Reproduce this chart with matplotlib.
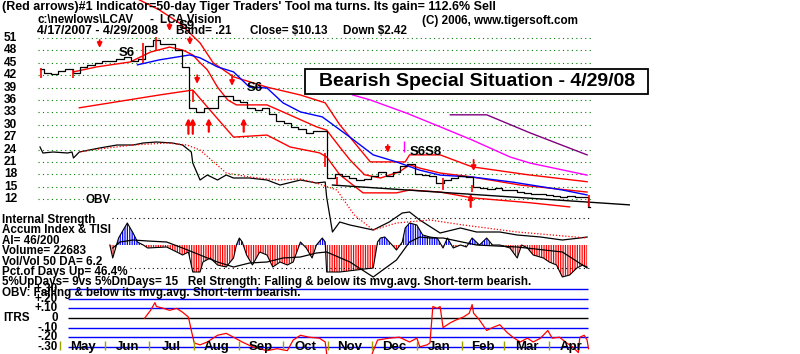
import numpy as np
import matplotlib
matplotlib.use("Agg")
import matplotlib.pyplot as plt
from matplotlib.patches import Rectangle

plt.rcParams['font.family'] = ['Liberation Sans', 'DejaVu Sans']
plt.rcParams['font.weight'] = 'bold'

W, H = 800, 354
X0, DPX = 40, 1.455          # pixel of day 0 (4/17/2007), pixels per calendar day

# ---------------- data (x = calendar days since 4/17/2007) ----------------
price_days = np.r_[np.arange(0, 376, 5), 378]
price_close = [43.5, 42.5, 42.3, 43.0, 43.5, 42.5, 44.0, 44.5, 45.0, 45.5,
               45.5, 46.0, 46.5, 45.5, 46.0, 49.0, 50.5, 49.5, 49.5, 48.0,
               44.0, 34.0, 33.0, 34.0, 34.0, 37.0, 37.0, 36.0, 35.5, 34.0,
               33.5, 34.0, 32.5, 31.0, 30.5, 29.5, 29.0, 28.0, 28.5, 28.5,
               17.0, 18.0, 17.5, 17.0, 16.5, 16.8, 17.5, 18.5, 17.5, 18.5,
               20.0, 20.5, 18.0, 17.8, 17.5, 16.0, 16.5, 17.0, 17.5, 17.3,
               15.0, 14.8, 14.5, 14.8, 14.3, 14.2, 13.8, 13.5, 13.2, 13.3,
               13.0, 12.8, 12.6, 12.7, 12.6, 12.55, 10.13]

ma_days = [23, 39, 62, 76, 89, 98, 105, 110, 115, 122, 129, 135, 156, 167, 190,
           197, 206, 213, 223, 234, 247, 254, 261, 275, 296, 330, 376]
ma_vals = [42.8, 44.0, 45.2, 47.6, 48.8, 48.1, 46.9, 45.0, 43.3, 39.1, 36.0, 34.8,
           34.8, 33.1, 29.5, 28.7, 24.6, 21.5, 17.9, 17.1, 18.6, 20.3, 19.5, 18.3,
           17.4, 15.4, 13.7]

upper_days = [55, 82, 96, 110, 119, 133, 156, 179, 196, 206, 227, 251, 254, 275,
              297, 335, 376]
upper_vals = [62.6, 57.8, 54.6, 49.8, 45.0, 41.6, 39.1, 37.2, 35.3, 30.0, 21.0,
              21.0, 22.7, 22.7, 19.8, 17.9, 16.2]

lower_days = [27, 82, 105, 115, 133, 156, 172, 192, 197, 206, 222, 245, 254, 275,
              297, 337, 364]
lower_vals = [34.1, 37.2, 38.4, 34.3, 27.0, 27.5, 24.6, 23.2, 22.2, 17.9, 13.5,
              13.5, 14.2, 13.7, 12.3, 11.1, 10.1]

ma50_days = [67, 82, 103, 110, 122, 133, 144, 156, 167, 179, 194, 213, 229, 245,
             261, 275, 298, 325, 359, 376]
ma50_vals = [44.5, 45.7, 46.9, 46.2, 44.0, 42.8, 39.1, 38.9, 35.3, 33.1, 31.9,
             27.0, 22.7, 21.0, 19.0, 17.8, 17.3, 16.1, 14.2, 13.0]

mag_days = [215, 227, 252, 275, 297, 323, 337, 376]
mag_vals = [37.2, 36.0, 32.8, 29.5, 26.3, 22.2, 20.7, 17.8]
pur_days = [282, 307, 337, 376]
pur_vals = [32.4, 32.4, 28.0, 22.7]

trend_days = [201, 405]
trend_vals = [15.4, 10.6]

# red-coloured price bars (day, low, high)
red_bar_days = [1, 23, 71, 80, 105, 196, 204, 277, 297, 377]
red_bar_low = [41.3, 41.3, 45.0, 48.1, 35.5, 19.8, 15.4, 14.2, 13.7, 10.1]
red_bar_high = [43.7, 43.3, 49.8, 51.2, 38.4, 23.2, 17.4, 17.1, 15.4, 13.0]

# signal arrows (day, tail price, tip price)
down_days = [41, 89, 103, 108, 132, 239, 298]
down_tail = [50.5, 54.6, 51.2, 42.0, 42.0, 25.1, 21.5]
down_tip = [48.6, 52.7, 49.3, 39.9, 39.4, 23.2, 18.8]
up_days = [102, 105, 116, 140, 296]
up_tail = [27.8, 27.8, 28.3, 28.3, 10.1]
up_tip = [31.6, 31.6, 31.6, 31.6, 13.3]

sig_labels = ["S6", "S9", "S6", "S6S8"]
sig_days = [54, 95, 142, 254]
sig_vals = [47.4, 54.0, 38.9, 23.4]

price_levels = [51, 48, 45, 42, 39, 36, 33, 30, 27, 24, 21, 18, 15, 12]

# OBV (arbitrary units)
obv_days = [0, 2, 9, 19, 22, 23, 27, 41, 53, 64, 71, 80, 91, 98, 104, 105, 110,
            115, 122, 128, 133, 144, 156, 165, 179, 190, 196, 197, 201, 206, 213,
            229, 240, 249, 254, 261, 275, 289, 300, 316, 328, 344, 359, 371, 376]
obv_vals = [93, 87, 88, 87, 88, 82, 88, 92, 95, 95, 97, 98, 97, 95, 88, 77, 60,
            65, 60, 65, 62, 62, 60, 55, 60, 57, 58, 43, 8, 18, 15, 10, 18, 27, 28,
            20, 7, 12, 8, 8, 5, 3, 0, 2, 3]
obvma_days = [27, 41, 64, 87, 101, 110, 128, 144, 163, 179, 190, 204, 216, 229,
              245, 268, 291, 328, 376]
obvma_vals = [88, 91, 95, 97, 95, 90, 67, 63, 60, 61, 57, 50, 25, 10, 17, 20, 15,
              8, 2]

# Accumulation index and TISI
ai_days = [48, 50, 54, 60, 64, 67, 71, 74, 87, 94, 98, 102, 105, 110, 112, 117,
           122, 128, 133, 135, 137, 139, 142, 146, 151, 156, 160, 165, 170, 174,
           179, 183, 187, 190, 194, 196, 197, 206, 229, 232, 234, 237, 242, 245,
           249, 251, 254, 259, 263, 268, 273, 277, 280, 284, 289, 293, 297, 302,
           307, 311, 316, 323, 328, 331, 335, 339, 346, 350, 355, 359, 364, 369,
           373, 376]
ai_vals = [0, -13, 7, 22, 12, 3, 0, -3, -2, -7, -10, -7, -27, -27, -17, -13, -20,
           -22, -13, 0, 7, 3, -10, -20, -7, -10, -22, -17, -20, -17, 3, -3, -13, 0,
           7, 3, -27, -27, -23, 3, 7, 8, 0, -5, 3, 17, 22, 20, 10, 8, 7, -3, 7, -3,
           0, -2, 7, 0, 7, 0, 0, -3, -13, 0, -3, -10, -13, -17, -20, -32, -30, -23,
           -20, -22]
tisi_days = [50, 55, 64, 74, 87, 98, 110, 122, 133, 144, 156, 167, 179, 190, 197,
             213, 229, 245, 254, 261, 268, 277, 300, 328, 359, 376]
tisi_vals = [-3, 3, 5, 4, 3, -3, -10, -17, -22, -18, -17, -13, -12, -8, -7, -17,
             -32, -15, 3, 8, 7, 7, 0, -2, -7, -23]

# ITRS
itrs_days = [72, 76, 79, 80, 85, 89, 94, 98, 102, 104, 106, 110, 115, 122, 128,
             133, 139, 146, 156, 163, 170, 174, 179, 185, 192, 196, 197, 199, 213,
             227, 232, 240, 247, 254, 259, 261, 266, 268, 270, 273, 275, 277, 282,
             286, 291, 295, 297, 298, 302, 307, 311, 316, 321, 325, 330, 335, 339,
             344, 349, 352, 357, 362, 366, 370, 371, 374, 376, 377]
itrs_vals = [0.0, 0.08, 0.16, 0.12, 0.1, 0.08, 0.1, 0.06, 0.01, -0.13, -0.26,
             -0.28, -0.25, -0.18, -0.16, -0.2, -0.25, -0.3, -0.34, -0.32, -0.34,
             -0.23, -0.18, -0.2, -0.21, -0.25, -0.37, -0.46, -0.49, -0.42, -0.23,
             -0.21, -0.2, -0.25, -0.21, -0.3, -0.28, -0.26, 0.12, 0.1, 0.12, -0.1,
             -0.05, -0.02, 0.01, 0.05, 0.14, 0.05, -0.02, -0.13, -0.1, -0.07, -0.15,
             -0.2, -0.25, -0.21, -0.25, -0.21, -0.13, -0.21, -0.2, -0.26, -0.3,
             -0.36, -0.2, -0.18, -0.23, -0.32]
itrs_levels = [0.3, 0.2, 0.1, 0.0, -0.1, -0.2, -0.3]
itrs_labels = ["+.30", "+.20", "+.10", "0", "-.10", "-.20", "-.30"]

month_names = ["May", "Jun", "Jul", "Aug", "Sep", "Oct", "Nov", "Dec", "Jan",
               "Feb", "Mar", "Apr"]
month_starts = [14, 45, 75, 106, 137, 167, 198, 228, 259, 290, 319, 350, 380]

left_lines = ["Internal Strength", "Accum Index & TISI", "AI= 46/200",
              "Volume= 22683", "Vol/Vol 50 DA= 6.2", "Pct.of Days Up= 46.4%",
              "5%UpDays= 9vs 5%DnDays= 15   Rel Strength: Falling & below its mvg.avg. Short-term bearish.",
              "OBV: Falling & below its mvg.avg. Short-term bearish."]

# ---------------- figure ----------------
fig = plt.figure(figsize=(W / 100, H / 100), dpi=100)
fig.patch.set_facecolor("white")
XL = (-X0 / DPX, (W - X0) / DPX)


def layer(val_at_top, val_at_bottom, z):
    ax = fig.add_axes([0, 0, 1, 1], zorder=z)
    ax.set_xlim(*XL)
    ax.set_ylim(val_at_bottom, val_at_top)
    ax.set_axis_off()
    ax.patch.set_alpha(0)
    return ax


def px2day(px):
    return (px - X0) / DPX


# price layer: 51 at y=38 px, 4.13 px per dollar
PPX = 4.13
axp = layer(51 + 38 / PPX, 51 - (H - 38) / PPX, 2)
# obv layer: value = 240 - y
axo = layer(240, 240 - H, 1)
# accumulation layer: value = 245 - y
axa = layer(245, 245 - H, 1)
# itrs layer: value = (318 - y) / 96
axi = layer(318 / 96, (318 - H) / 96, 1)
# text layer in pixels
axt = fig.add_axes([0, 0, 1, 1], zorder=5)
axt.set_xlim(0, W)
axt.set_ylim(H, 0)
axt.set_axis_off()
axt.patch.set_alpha(0)

green = "#008000"
dots = (0, (1, 3))
FS = 8.4

# price grid
axp.hlines(price_levels, px2day(38), px2day(592), colors=green, lw=0.8,
           linestyles=dots)
for lv in price_levels:
    axt.text(4, 38 + (51 - lv) * PPX, str(lv), fontsize=8.6, va="center",
             ha="left")

# bands and averages
axp.plot(upper_days, upper_vals, color="red", lw=1)
axp.plot(lower_days, lower_vals, color="red", lw=1)
axp.plot(ma_days, ma_vals, color="red", lw=1)
axp.plot(ma50_days, ma50_vals, color="blue", lw=1)
axp.plot(mag_days, mag_vals, color="#ff00ff", lw=1)
axp.plot(pur_days, pur_vals, color="#800080", lw=1)
axp.plot(trend_days, trend_vals, color="black", lw=1)

# price
axp.plot(price_days, price_close, color="black", lw=0.9,
         drawstyle="steps-mid", zorder=3)
axp.vlines(red_bar_days, red_bar_low, red_bar_high, colors="red", lw=1.2,
           zorder=4)

for d, a, b in zip(down_days, down_tail, down_tip):
    axp.annotate("", xy=(d, b), xytext=(d, a),
                 arrowprops=dict(arrowstyle="-|>", color="red", lw=1.3,
                                 mutation_scale=7, shrinkA=0, shrinkB=0))
for d, a, b in zip(up_days, up_tail, up_tip):
    axp.annotate("", xy=(d, b), xytext=(d, a),
                 arrowprops=dict(arrowstyle="-|>", color="red", lw=1.6,
                                 mutation_scale=7, shrinkA=0, shrinkB=0))
for s, d, v in zip(sig_labels, sig_days, sig_vals):
    axp.text(d, v, s, fontsize=9.5, fontweight="bold", va="center", ha="left",
             zorder=6)
axp.vlines([250], [23.5], [26.0], colors="#ff00ff", lw=1)

# OBV
axo.plot(obv_days, obv_vals, color="black", lw=0.9)
axo.plot(obvma_days, obvma_vals, color="red", lw=0.9, linestyle=(0, (1, 1.5)))

# accumulation index
ai_x = np.array(ai_days)
ai_y = np.array(ai_vals)
plt.rcParams["hatch.linewidth"] = 0.9
axa.fill_between(ai_x, ai_y, 0, where=ai_y <= 0, interpolate=True,
                 facecolor="none", edgecolor="red", hatch="|||||||", lw=0)
axa.fill_between(ai_x, ai_y, 0, where=ai_y >= 0, interpolate=True,
                 facecolor="none", edgecolor="blue", hatch="|||||||", lw=0)
axa.plot(ai_x, ai_y, color="black", lw=0.8)
axa.plot(tisi_days, tisi_vals, color="black", lw=0.9)
axa.hlines([27], px2day(112), px2day(592), colors="black", lw=0.8,
           linestyles=dots)
axa.hlines([-23], px2day(130), px2day(592), colors="black", lw=0.8,
           linestyles=dots)

# ITRS
for lv in itrs_levels:
    axi.hlines(lv, px2day(68), px2day(588),
               colors="black" if lv == 0 else "blue", lw=1)
axi.plot(itrs_days, itrs_vals, color="red", lw=0.9)
for lv, lab in zip(itrs_levels, itrs_labels):
    axt.text(58, 318 - lv * 96, lab, fontsize=FS, ha="right", va="center")
axt.text(3, 318, "ITRS", fontsize=FS, va="center")

# month ticks and labels
axi.vlines(month_starts[:-1], -0.33, -0.24, colors="#a0a000", lw=1)
for i, m in enumerate(month_names):
    axi.text((month_starts[i] + month_starts[i + 1]) / 2, -0.305, m,
             fontsize=9.5, fontweight="bold", ha="center", va="center")

# header texts
axt.text(2, 7, "(Red arrows)#1 Indicator=50-day Tiger Traders' Tool ma turns. "
         "Its gain= 112.6% Sell", fontsize=9.0, va="center")
axt.text(37, 20, "c:\\newlows\\LCAV", fontsize=FS, va="center")
axt.text(150, 20, "-", fontsize=FS, va="center")
axt.text(160, 20, "LCA Vision", fontsize=FS, va="center")
axt.text(37, 31, "4/17/2007 - 4/29/2008", fontsize=8.9, va="center")
axt.text(176, 31, "Band= .21", fontsize=FS, va="center")
axt.text(250, 31, "Close= $10.13", fontsize=FS, va="center")
axt.text(343, 31, "Down $2.42", fontsize=FS, va="center")
axt.text(422, 21, "(C) 2006, www.tigersoft.com", fontsize=FS, va="center")
axt.text(85, 200, "OBV", fontsize=FS, va="center")
for i, line in enumerate(left_lines):
    axt.text(2, 220 + i * 10.4, line, fontsize=FS, va="center")

axt.add_patch(Rectangle((305, 69), 343, 25, facecolor="white",
                        edgecolor="black", lw=1.3, zorder=1))
axt.text(477, 81.5, "Bearish Special Situation - 4/29/08", fontsize=14,
         fontweight="bold", ha="center", va="center", zorder=2)

fig.savefig("out.png", dpi=100)
